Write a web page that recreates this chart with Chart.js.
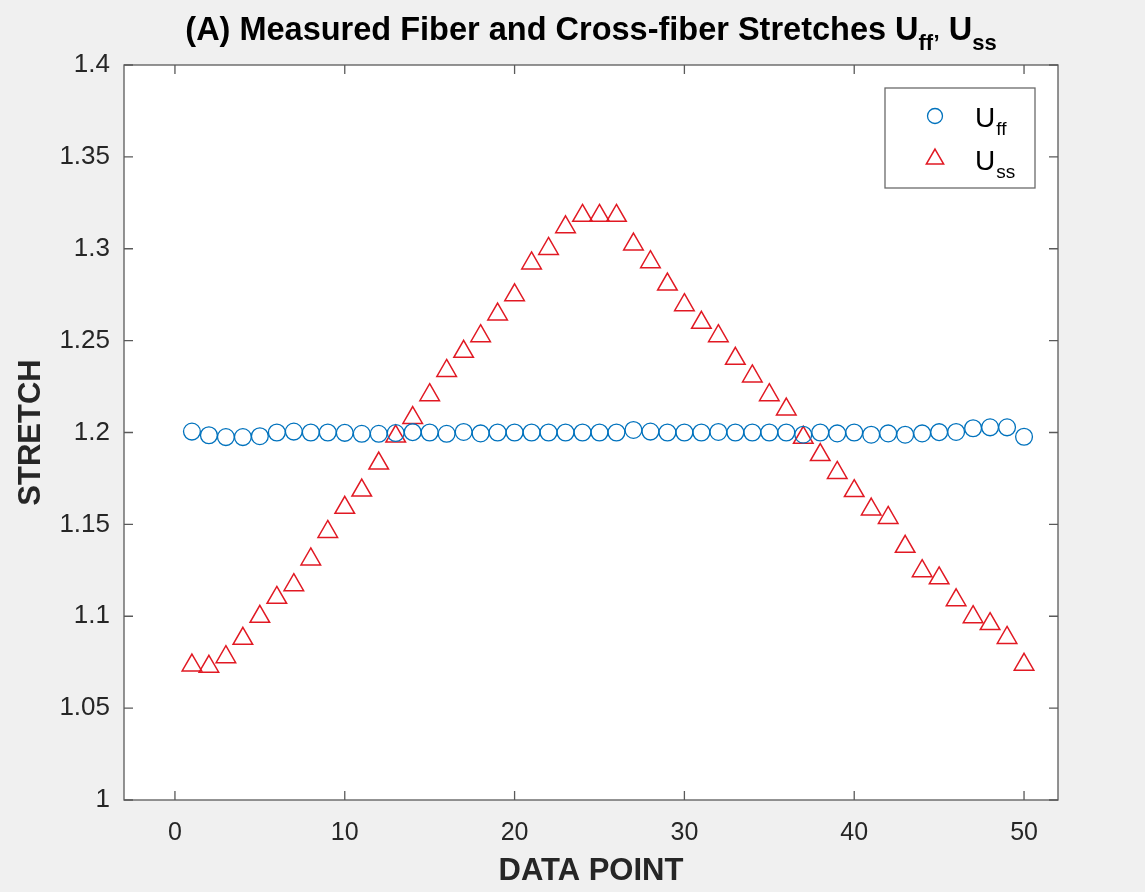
<!DOCTYPE html>
<html>
<head>
<meta charset="utf-8">
<script src="https://cdn.jsdelivr.net/npm/chart.js@4/dist/chart.umd.min.js"></script>
<style>
  html, body { margin: 0; padding: 0; background: #f0f0f0; }
  canvas { display: block; }
</style>
</head>
<body>
<canvas id="c" width="1145" height="892"></canvas>
<script>
// ---- data ----
const dataPoint = [1,2,3,4,5,6,7,8,9,10,11,12,13,14,15,16,17,18,19,20,21,22,23,24,25,
                   26,27,28,29,30,31,32,33,34,35,36,37,38,39,40,41,42,43,44,45,46,47,48,49,50];
const uff = [1.2005,1.1985,1.1975,1.1975,1.1980,1.2000,1.2005,1.2000,1.2000,1.1998,
             1.1993,1.1993,1.1997,1.2002,1.2000,1.1993,1.2003,1.1995,1.2000,1.2000,
             1.2000,1.2000,1.2000,1.2000,1.2000,1.2000,1.2014,1.2005,1.2000,1.2000,
             1.2000,1.2003,1.2000,1.2000,1.2000,1.2000,1.1988,1.2000,1.1995,1.2000,
             1.1988,1.1995,1.1988,1.1995,1.2002,1.2003,1.2023,1.2028,1.2028,1.1977];
const uss = [1.0733,1.0726,1.0778,1.0878,1.0998,1.1101,1.1170,1.1310,1.1460,1.1591,
             1.1685,1.1832,1.1979,1.2080,1.2204,1.2336,1.2440,1.2525,1.2643,1.2748,
             1.2921,1.3000,1.3118,1.3180,1.3180,1.3180,1.3024,1.2928,1.2806,1.2694,
             1.2598,1.2525,1.2402,1.2306,1.2204,1.2126,1.1972,1.1878,1.1781,1.1682,
             1.1582,1.1536,1.1379,1.1246,1.1207,1.1088,1.0996,1.0958,1.0883,1.0737];
const xTicks = [0, 10, 20, 30, 40, 50];
const yTicks = [1, 1.05, 1.1, 1.15, 1.2, 1.25, 1.3, 1.35, 1.4];
const titleMain = '(A) Measured Fiber and Cross-fiber Stretches ';
const legendLabels = [{base: 'U', sub: 'ff'}, {base: 'U', sub: 'ss'}];
const xLabel = 'DATA POINT';
const yLabel = 'STRETCH';

const BLUE = 'rgb(0,114,189)';
const RED = 'rgb(225,25,35)';
const AXIS = '#262626';
const FONT = "'Liberation Sans', Arial, Helvetica, sans-serif";

const bgPlugin = {
  id: 'bg',
  beforeDraw(chart) {
    const {ctx, chartArea: a} = chart;
    ctx.save();
    ctx.fillStyle = '#f0f0f0';
    ctx.fillRect(0, 0, chart.width, chart.height);
    ctx.fillStyle = '#ffffff';
    ctx.fillRect(a.left, a.top, a.right - a.left, a.bottom - a.top);
    ctx.restore();
  },
  afterDatasetsDraw(chart) {
    const {ctx, chartArea: a, scales} = chart;
    ctx.save();
    ctx.strokeStyle = '#5a5a5a';
    ctx.lineWidth = 1.3;
    ctx.strokeRect(a.left, a.top, a.right - a.left, a.bottom - a.top);
    const tl = 9;
    ctx.beginPath();
    xTicks.forEach(v => {
      const x = scales.x.getPixelForValue(v);
      ctx.moveTo(x, a.bottom); ctx.lineTo(x, a.bottom - tl);
      ctx.moveTo(x, a.top); ctx.lineTo(x, a.top + tl);
    });
    yTicks.forEach(v => {
      const y = scales.y.getPixelForValue(v);
      ctx.moveTo(a.left, y); ctx.lineTo(a.left + tl, y);
      ctx.moveTo(a.right, y); ctx.lineTo(a.right - tl, y);
    });
    ctx.stroke();
    ctx.restore();
  },
  afterDraw(chart) {
    const {ctx, chartArea: a} = chart;
    ctx.save();
    // ---- title with subscripts ----
    const mainFont = 'bold 32.5px ' + FONT;
    const subFont = 'bold 22px ' + FONT;
    const parts = [
      {t: titleMain + 'U', f: mainFont, dy: 0},
      {t: 'ff\u2019', f: subFont, dy: 10},
      {t: ' U', f: mainFont, dy: 0},
      {t: 'ss', f: subFont, dy: 10}
    ];
    let total = 0;
    parts.forEach(p => { ctx.font = p.f; p.w = ctx.measureText(p.t).width; total += p.w; });
    let x = (a.left + a.right) / 2 - total / 2;
    const baseY = 40;
    ctx.fillStyle = '#000';
    ctx.textBaseline = 'alphabetic';
    ctx.textAlign = 'left';
    parts.forEach(p => { ctx.font = p.f; ctx.fillText(p.t, x, baseY + p.dy); x += p.w; });

    // ---- legend ----
    const L = {x: 885, y: 88, w: 150, h: 100};
    ctx.fillStyle = '#fff';
    ctx.fillRect(L.x, L.y, L.w, L.h);
    ctx.strokeStyle = '#6a6a6a';
    ctx.lineWidth = 1.3;
    ctx.strokeRect(L.x, L.y, L.w, L.h);
    const rows = [L.y + 28, L.y + 71];
    // circle marker
    ctx.strokeStyle = BLUE; ctx.lineWidth = 1.3;
    ctx.beginPath(); ctx.arc(L.x + 50, rows[0], 7.5, 0, Math.PI * 2); ctx.stroke();
    // triangle marker
    ctx.strokeStyle = RED; ctx.lineWidth = 1.5;
    const r = 10, cx = L.x + 50, cy = rows[1];
    ctx.beginPath();
    ctx.moveTo(cx, cy - r);
    ctx.lineTo(cx + r * Math.sin(Math.PI / 3 * 2), cy + r / 2);
    ctx.lineTo(cx - r * Math.sin(Math.PI / 3 * 2), cy + r / 2);
    ctx.closePath(); ctx.stroke();
    ctx.fillStyle = '#000';
    legendLabels.forEach((lab, i) => {
      ctx.font = '28px ' + FONT;
      const bx = L.x + 90, by = rows[i] + 11;
      ctx.fillText(lab.base, bx, by);
      const w = ctx.measureText(lab.base).width;
      ctx.font = '19px ' + FONT;
      ctx.fillText(lab.sub, bx + w + 1, by + 8);
    });
    ctx.restore();
  }
};

new Chart(document.getElementById('c'), {
  type: 'scatter',
  data: {
    datasets: [
      {
        label: 'Uff',
        data: dataPoint.map((d, i) => ({x: d, y: uff[i]})),
        pointStyle: 'circle',
        pointRadius: 8.4,
        pointHoverRadius: 8.4,
        borderColor: BLUE,
        backgroundColor: 'rgba(0,0,0,0)',
        pointBorderWidth: 1.3,
        showLine: false
      },
      {
        label: 'Uss',
        data: dataPoint.map((d, i) => ({x: d, y: uss[i]})),
        pointStyle: 'triangle',
        pointRadius: 11.3,
        pointHoverRadius: 11.3,
        borderColor: RED,
        backgroundColor: 'rgba(0,0,0,0)',
        pointBorderWidth: 1.5,
        showLine: false
      }
    ]
  },
  options: {
    responsive: false,
    animation: false,
    events: [],
    clip: false,
    layout: { padding: { top: 65, right: 87, left: 0, bottom: 0 } },
    plugins: {
      legend: { display: false },
      title: { display: false },
      tooltip: { enabled: false }
    },
    scales: {
      x: {
        type: 'linear',
        min: -3, max: 52,
        afterFit(s) { s.height = 92; },
        afterBuildTicks(s) { s.ticks = xTicks.map(v => ({value: v})); },
        grid: { display: false, drawTicks: false },
        border: { display: false },
        ticks: {
          padding: 18,
          color: AXIS,
          font: { family: FONT, size: 25 },
          maxRotation: 0,
          callback: v => String(v)
        },
        title: {
          display: true, text: xLabel, color: AXIS,
          font: { family: FONT, size: 31, weight: 'bold' },
          padding: { top: 0, bottom: 2 }
        }
      },
      y: {
        type: 'linear',
        min: 1, max: 1.4,
        afterFit(s) { s.width = 124; },
        afterBuildTicks(s) { s.ticks = yTicks.map(v => ({value: v})); },
        grid: { display: false, drawTicks: false },
        border: { display: false },
        ticks: {
          padding: 14,
          color: AXIS,
          font: { family: FONT, size: 26 },
          callback: v => String(Number(v.toFixed(2)))
        },
        title: {
          display: true, text: yLabel, color: AXIS,
          font: { family: FONT, size: 31, weight: 'bold' },
          padding: { top: 13, bottom: 0 }
        }
      }
    }
  },
  plugins: [bgPlugin]
});
</script>
</body>
</html>
